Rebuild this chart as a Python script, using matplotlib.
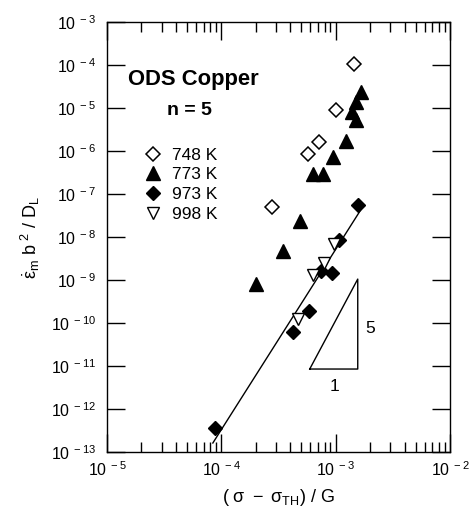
import matplotlib
matplotlib.use("Agg")
import matplotlib.pyplot as plt
from matplotlib.ticker import FixedLocator, FixedFormatter, LogLocator, NullFormatter

plt.rcParams['font.family'] = ['Liberation Sans', 'DejaVu Sans']
plt.rcParams['mathtext.fontset'] = 'custom'
plt.rcParams['mathtext.rm'] = 'Liberation Sans'
plt.rcParams['mathtext.it'] = 'Liberation Sans'
plt.rcParams['mathtext.bf'] = 'Liberation Sans:bold'

# normalized stress (x) and normalized creep rate (y) for each test temperature
x_748 = [1.44e-3, 1.0e-3, 7.1e-4, 5.7e-4, 2.76e-4]
y_748 = [1.05e-4, 9.0e-6, 1.62e-6, 8.5e-7, 5.0e-8]

x_773 = [1.65e-3, 1.50e-3, 1.38e-3, 1.52e-3, 1.22e-3, 9.4e-4, 7.7e-4, 6.3e-4,
         4.85e-4, 3.44e-4, 2.0e-4]
y_773 = [2.36e-5, 1.38e-5, 8.1e-6, 5.3e-6, 1.71e-6, 7.3e-7, 2.9e-7, 2.9e-7,
         2.35e-8, 4.7e-9, 8.1e-10]

x_973 = [1.56e-3, 1.06e-3, 7.4e-4, 9.2e-4, 5.8e-4, 4.2e-4, 8.8e-5]
y_973 = [5.5e-8, 8.5e-9, 1.62e-9, 1.46e-9, 1.9e-10, 6.2e-11, 3.6e-13]

x_998 = [9.6e-4, 7.85e-4, 6.3e-4, 4.66e-4]
y_998 = [6.9e-9, 2.5e-9, 1.3e-9, 1.24e-10]

# fitted line through the high temperature data
fit_x = [8.43e-5, 1.72e-3]
fit_y = [1.62e-13, 5.0e-8]

# slope triangle (rise 5, run 1)
tri_x = [5.93e-4, 1.56e-3, 1.56e-3, 5.93e-4]
tri_y = [8.5e-12, 8.5e-12, 1.05e-9, 8.5e-12]

xticks = [1e-5, 1e-4, 1e-3, 1e-2]
xlabels = [r'$10^{\ -5}$', r'$10^{\ -4}$', r'$10^{\ -3}$', r'$10^{\ -2}$']
yticks = [10.0 ** e for e in range(-13, -2)]
ylabels = [r'$10^{\ %d}$' % e for e in range(-13, -2)]

fig = plt.figure(figsize=(4.7, 5.12), dpi=100)
ax = fig.add_axes([107 / 470, 1 - 452 / 512, 343 / 470, 430 / 512])

ax.plot(fit_x, fit_y, color='black', lw=1.0)
ax.plot(tri_x, tri_y, color='black', lw=1.0)

ax.plot(x_748, y_748, ls='none', marker='D', ms=6.8, mfc='white', mec='black',
        mew=1.1, label='748 K')
ax.plot(x_773, y_773, ls='none', marker='^', ms=9.5, mfc='black', mec='black',
        label='773 K')
ax.plot(x_973, y_973, ls='none', marker='D', ms=6.8, mfc='black', mec='black',
        label='973 K')
ax.plot(x_998, y_998, ls='none', marker='v', ms=9.0, mfc='white', mec='black',
        mew=1.0, label='998 K')

ax.set_xscale('log')
ax.set_yscale('log')
ax.set_xlim(1e-5, 1e-2)
ax.set_ylim(1e-13, 1e-3)

ax.xaxis.set_major_locator(FixedLocator(xticks))
ax.xaxis.set_major_formatter(FixedFormatter(xlabels))
ax.xaxis.set_minor_locator(LogLocator(base=10, subs=range(2, 10)))
ax.xaxis.set_minor_formatter(NullFormatter())
ax.yaxis.set_major_locator(FixedLocator(yticks))
ax.yaxis.set_major_formatter(FixedFormatter(ylabels))
ax.yaxis.set_minor_locator(FixedLocator([]))

ax.tick_params(which='both', direction='in', top=True, right=True,
               labelsize=11.5, width=1.0)
ax.tick_params(which='major', length=13, pad=6)
ax.tick_params(which='minor', length=7)
ax.tick_params(axis='y', which='major', pad=8)
for s in ax.spines.values():
    s.set_linewidth(1.0)

ax.text(0.251, 0.867, 'ODS Copper', transform=ax.transAxes, fontsize=15.8,
        weight='bold', ha='center', va='center')
ax.text(0.239, 0.795, 'n = 5', transform=ax.transAxes, fontsize=14,
        weight='bold', ha='center', va='center')
ax.text(2.02e-3, 7.6e-11, '5', fontsize=12.5, ha='center', va='center')
ax.text(9.8e-4, 3.4e-12, '1', fontsize=12.5, ha='center', va='center')

ax.legend(loc='center left', bbox_to_anchor=(0.11, 0.622), frameon=False,
          fontsize=12.5, handlelength=1.0, handletextpad=0.55,
          labelspacing=0.26, borderpad=0, borderaxespad=0, numpoints=1)

ax.set_xlabel(r'$(\ \sigma\ -\ \sigma_{TH})\ /\ G$', fontsize=13, labelpad=6)
ax.set_ylabel(r'$\dot{\varepsilon}_m\ b^{\ 2}\ /\ D_L$', fontsize=13, labelpad=6)

fig.savefig('out.png', dpi=100)
